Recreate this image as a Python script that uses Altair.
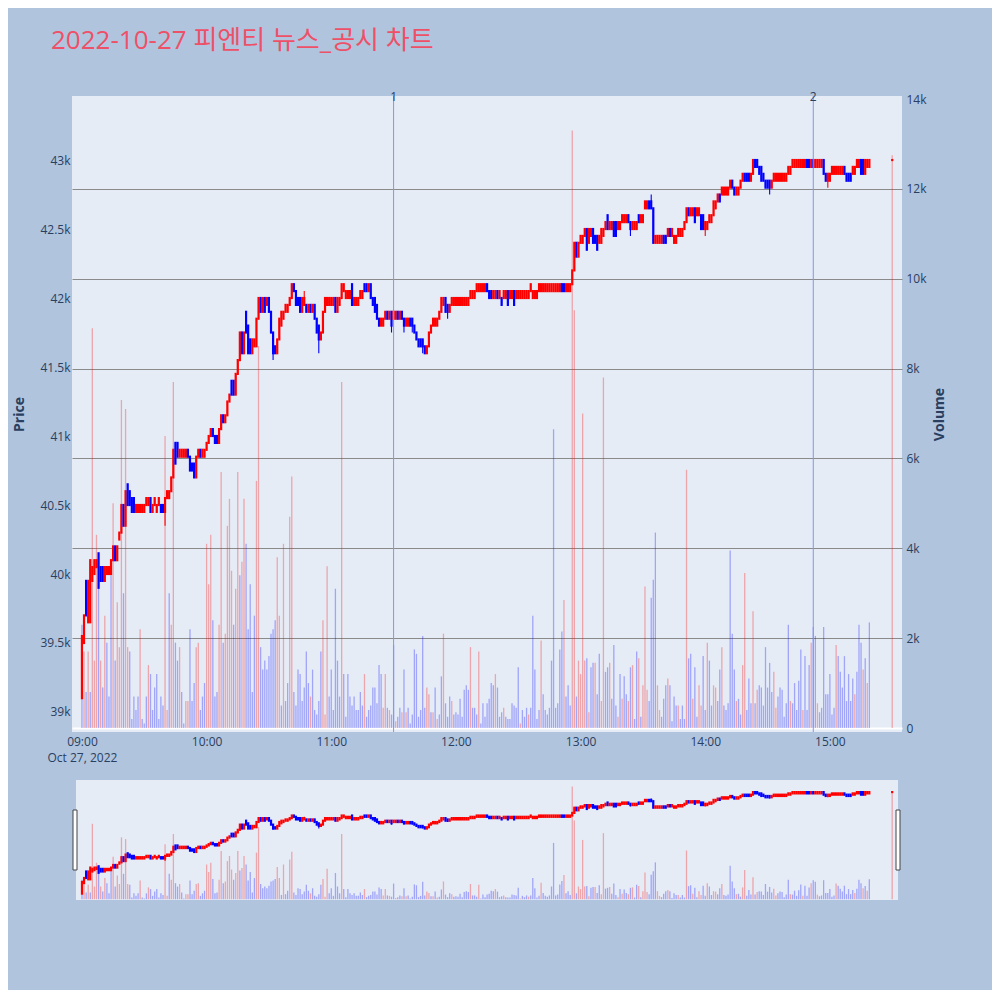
import altair as alt
import pandas as pd

# ---------------- data ----------------
PRICE_UNIT = 10  # prices below are in units of 10 won
title_text = "2022-10-27 피엔티 뉴스_공시 차트"

# one candle per minute after 09:00 (0..379) plus the 15:30 closing auction
minute_index = list(range(380)) + [390]

open_p = [
    3910,3950,3995,3965,3965,3995,4000,4005,4015,4005,
    4005,3995,4000,4000,4000,4010,4020,4010,4025,4030,
    4050,4035,4065,4060,4055,4055,4045,4045,4045,4045,
    4045,4050,4050,4055,4045,4050,4045,4050,4050,4050,
    4045,4055,4055,4060,4070,4095,4095,4085,4085,4085,
    4085,4090,4085,4080,4080,4070,4085,4090,4085,4085,
    4090,4095,4100,4105,4100,4100,4095,4105,4115,4110,
    4115,4125,4140,4140,4130,4145,4155,4175,4160,4190,
    4180,4170,4160,4165,4165,4185,4200,4190,4200,4195,
    4200,4190,4175,4165,4160,4170,4180,4185,4190,4190,
    4195,4200,4210,4205,4200,4200,4190,4195,4195,4190,
    4195,4190,4195,4185,4180,4170,4175,4190,4195,4195,
    4195,4195,4200,4190,4195,4200,4205,4200,4200,4200,
    4210,4195,4195,4195,4200,4200,4210,4210,4205,4210,
    4200,4200,4195,4185,4180,4180,4185,4190,4185,4190,
    4185,4185,4190,4185,4190,4185,4180,4180,4185,4185,
    4180,4175,4170,4170,4170,4165,4160,4165,4175,4180,
    4180,4180,4185,4190,4195,4200,4195,4190,4195,4195,
    4195,4195,4195,4195,4195,4195,4195,4200,4200,4200,
    4205,4205,4205,4205,4205,4210,4205,4205,4200,4200,
    4205,4200,4200,4200,4200,4205,4200,4200,4205,4200,
    4200,4200,4200,4200,4200,4200,4205,4200,4200,4200,
    4205,4205,4205,4205,4205,4205,4205,4205,4205,4205,
    4205,4210,4210,4205,4205,4205,4210,4220,4240,4230,
    4240,4240,4245,4250,4240,4245,4250,4245,4245,4240,
    4240,4245,4250,4260,4250,4250,4255,4255,4250,4250,
    4255,4255,4255,4260,4255,4250,4250,4250,4260,4255,
    4255,4265,4265,4270,4270,4265,4240,4240,4240,4240,
    4245,4245,4245,4250,4245,4240,4240,4245,4245,4245,
    4250,4255,4265,4260,4260,4265,4260,4260,4260,4260,
    4250,4250,4255,4255,4260,4265,4270,4275,4275,4275,
    4275,4275,4280,4285,4280,4275,4275,4280,4285,4290,
    4290,4290,4285,4290,4300,4300,4295,4295,4290,4285,
    4285,4285,4280,4285,4285,4285,4285,4285,4285,4285,
    4290,4290,4295,4295,4295,4295,4295,4295,4295,4300,
    4300,4295,4300,4295,4295,4295,4295,4300,4290,4285,
    4285,4290,4290,4290,4290,4290,4290,4295,4290,4290,
    4290,4290,4290,4295,4295,4300,4300,4290,4295,4295,
    4300,
]
close_p = [
    3955,3970,3970,3995,4010,4005,4010,4010,3990,3995,
    3995,4005,4005,4005,4010,4020,4010,4020,4030,4050,
    4035,4060,4050,4050,4045,4045,4050,4050,4050,4050,
    4050,4055,4055,4045,4050,4055,4050,4055,4045,4045,
    4055,4060,4060,4070,4090,4080,4085,4090,4090,4090,
    4090,4085,4075,4075,4070,4085,4090,4085,4090,4090,
    4095,4100,4105,4100,4095,4095,4105,4115,4110,4115,
    4125,4130,4130,4130,4145,4155,4175,4160,4175,4175,
    4160,4160,4170,4170,4185,4200,4190,4200,4190,4200,
    4190,4175,4160,4160,4170,4185,4190,4190,4195,4195,
    4200,4210,4205,4195,4195,4190,4200,4200,4190,4195,
    4190,4195,4185,4175,4170,4175,4190,4200,4200,4200,
    4200,4200,4190,4200,4200,4210,4210,4205,4205,4205,
    4195,4200,4200,4200,4205,4205,4205,4205,4210,4200,
    4195,4190,4185,4180,4185,4185,4190,4185,4190,4180,
    4190,4190,4185,4190,4185,4180,4185,4185,4180,4180,
    4175,4170,4165,4165,4165,4160,4165,4175,4180,4185,
    4185,4185,4190,4200,4200,4190,4190,4195,4200,4200,
    4200,4200,4200,4200,4200,4200,4200,4205,4205,4205,
    4210,4210,4210,4210,4210,4205,4200,4200,4205,4205,
    4200,4205,4195,4205,4205,4195,4205,4205,4195,4205,
    4205,4205,4205,4205,4205,4205,4210,4205,4205,4205,
    4210,4210,4210,4210,4210,4210,4210,4210,4210,4210,
    4210,4205,4205,4210,4210,4210,4220,4240,4230,4240,
    4245,4245,4250,4235,4250,4250,4240,4240,4235,4245,
    4250,4250,4255,4250,4255,4255,4245,4245,4255,4255,
    4260,4260,4260,4255,4250,4255,4255,4255,4255,4260,
    4260,4270,4270,4265,4265,4240,4245,4245,4245,4245,
    4240,4240,4250,4245,4250,4245,4245,4250,4250,4250,
    4255,4265,4260,4265,4265,4255,4265,4265,4250,4250,
    4255,4255,4260,4260,4270,4270,4275,4270,4280,4280,
    4280,4280,4285,4280,4275,4280,4280,4285,4290,4285,
    4285,4285,4290,4300,4295,4295,4290,4285,4285,4280,
    4280,4280,4285,4290,4290,4290,4290,4290,4290,4290,
    4295,4295,4300,4300,4300,4300,4300,4300,4300,4295,
    4295,4300,4295,4300,4300,4300,4300,4290,4285,4290,
    4290,4295,4295,4295,4295,4295,4295,4290,4285,4285,
    4285,4295,4295,4300,4300,4290,4290,4300,4300,4300,
    4300,
]
# wick extremes that go beyond the candle body (minute -> price/10)
wick_low = {40: 4035, 92: 4155, 114: 4160, 149: 4175, 155: 4175, 159: 4175,
            164: 4160, 176: 4185, 264: 4245, 300: 4245, 331: 4275, 359: 4280}
wick_high = {107: 4205, 274: 4275}

volume = [
    2300,1700,800,1700,800,8900,1500,4300,3100,1500,
    900,2500,1900,700,3400,5000,1500,2800,1800,7300,
    3000,7100,1800,1700,200,700,400,700,2200,200,
    100,700,1400,1200,400,900,1200,200,700,500,
    6500,400,3000,2300,7700,1900,1500,1800,800,100,
    600,600,2200,600,1000,1800,1900,400,700,1000,
    4100,3200,4300,2400,700,800,2300,5700,1900,2100,
    4500,5100,3500,2300,3100,5700,3400,3700,5100,4100,
    2200,3200,800,2500,5500,8500,1800,1300,1500,1300,
    1600,2100,2200,2400,3800,2500,500,4100,600,1000,
    4700,5600,800,500,1300,1200,600,900,1700,1000,
    700,1300,400,300,600,1700,2400,300,3600,700,
    1300,400,3100,1500,700,7700,1200,250,1200,700,
    500,700,400,400,800,500,1200,250,400,500,
    900,900,550,1400,1200,450,1200,450,400,300,
    1850,150,250,450,350,1300,350,450,100,300,
    1750,1650,250,400,2050,450,900,750,350,350,
    900,200,300,1150,2100,550,250,700,600,300,
    350,300,650,250,850,950,850,1800,450,450,
    300,1700,100,550,250,550,650,1000,950,1200,
    900,250,350,450,250,200,200,550,500,450,
    1350,100,400,250,450,300,450,2500,1300,200,
    400,1950,750,400,300,450,1500,6650,450,550,
    1750,2150,2850,700,950,500,13300,9300,700,1500,
    1200,7000,1500,1550,350,1350,1450,1450,750,1650,
    600,7800,1250,1350,1450,650,1850,500,250,1200,
    650,1150,750,600,1350,1400,200,1700,1550,250,
    950,3150,850,600,2900,3300,4350,950,400,250,
    650,950,1100,950,150,700,500,500,200,500,
    200,5750,1550,1650,650,1350,250,950,500,1600,
    400,1900,1500,500,950,900,600,1300,1800,500,
    400,550,3950,2100,1300,600,650,300,1400,3450,
    400,1100,550,2600,550,850,950,900,500,1800,
    900,1450,800,1250,450,700,900,850,250,550,
    2300,600,550,1000,400,1050,1750,400,1600,400,
    1400,1900,2250,2050,550,350,450,2250,750,750,
    1200,300,450,1850,1600,1250,900,1600,600,1200,
    600,1100,750,1250,2300,1900,1300,1550,1000,2350,
    12750,
]
# r = red (buy side) bar, b = blue bar
vol_side = list(
    "brbrbrrrbr" "brbbbrbrrr" "brrbbbbbrb" "bbrbbbbbbb" "rrbrrbbrbb"
    "rrbbbrrbbb" "rrrbbbrrbr" "rrrbrrbrrb" "bbbbrrbbbb" "bbbbrrbrbb"
    "rrbbbbbbbb" "rbbbbbrrrb" "bbbbbrbbbb" "bbbbbbrbbb" "bbbbbrrbrb"
    "brbbrbrbbb" "bbbbbbrrbr" "brbbrbbbrb" "bbbbbbbrbb" "brbbbbbbbr"
    "bbbrbbbbbb" "brbbbrbbbb" "brbbbbbbbb" "bbrbbbrrbr" "rrrbrbbrbb"
    "rrbbrbbbrb" "rbbrbrbbrb" "rrrbbbbrrb" "bbrbbbbrbb" "brbbrbbrrb"
    "brbbrrbbrb" "bbbbbrbbrr" "bbbrbrbbbb" "bbbrrbbbbb" "brbbbbbrbb"
    "brbbrbbbbb" "bbbrbbbbbb" "bbrbbbrbrb" "r"
)

news_times = ["2022-10-27T11:30:00Z", "2022-10-27T14:52:00Z"]
news_labels = ["1", "2"]

price_ticks = [39000, 39500, 40000, 40500, 41000, 41500, 42000, 42500, 43000]
volume_ticks = [0, 2000, 4000, 6000, 8000, 10000, 12000, 14000]
hour_ticks = ["09:00", "10:00", "11:00", "12:00", "13:00", "14:00", "15:00"]

# ---------------- table ----------------
base = pd.Timestamp("2022-10-27T09:00:00Z")
times = base + pd.to_timedelta(minute_index, unit="m")
rows = []
for i, m in enumerate(minute_index):
    o = open_p[i] * PRICE_UNIT
    c = close_p[i] * PRICE_UNIT
    hi = wick_high.get(m, max(open_p[i], close_p[i])) * PRICE_UNIT
    lo = wick_low.get(m, min(open_p[i], close_p[i])) * PRICE_UNIT
    rows.append({
        "t": times[i].strftime("%Y-%m-%dT%H:%M:%SZ"),
        "o": o, "c": c, "h": hi, "l": lo,
        "bot": min(o, c), "top": max(o, c),
        "dir": "r" if c >= o else "b",
        "vol": volume[i], "vside": vol_side[i],
    })
df = pd.DataFrame(rows)
news_df = pd.DataFrame({"t": news_times, "label": news_labels})

def ms(minutes):
    return int((base + pd.Timedelta(minutes=minutes)).value // 10**6)

hour_ms = [int(pd.Timestamp("2022-10-27T" + h + ":00Z").value // 10**6) for h in hour_ticks]

# ---------------- styling constants ----------------
FONT = "Open Sans, Noto Sans CJK KR, sans-serif"
TXT = "#2a3f5f"
W_MAIN, H_MAIN = 830, 636
W_SL, H_SL = 822, 120
PX_PER_MIN = 2.103
x_main_dom = [ms(-5 / PX_PER_MIN), ms(825 / PX_PER_MIN)]
x_sl_dom = [ms(-1 / PX_PER_MIN), ms(821 / PX_PER_MIN)]
price_dom = [38855, 43464]
vol_dom = [-89, 14067]
K_LABEL = "datum.value === 0 ? '0' : (datum.value / 1000) + 'k'"

color_scale = alt.Scale(domain=["r", "b"], range=["#ff0000", "#0000ff"])


def build(xscale, main):
    xaxis = alt.Axis(
        values=hour_ms, title=None, ticks=False, domain=False, grid=False,
        labelExpr="utcFormat(datum.value, '%H') == '09' ? ['09:00', 'Oct 27, 2022'] : utcFormat(datum.value, '%H:%M')",
        labelFont=FONT, labelFontSize=12, labelColor=TXT, labelPadding=4,
        labelLineHeight=16, labelBound=False, labelOverlap=False, labelFlush=False,
    ) if main else None
    X = alt.X("t:T", scale=xscale, axis=xaxis)

    vaxis = alt.Axis(
        orient="right", values=volume_ticks, labelExpr=K_LABEL, title="Volume",
        titleAngle=270, titleFont=FONT, titleFontSize=14, titleFontWeight="bold",
        titleColor=TXT, titleX=44, titleY=H_MAIN / 2, labelFont=FONT, labelFontSize=12,
        labelColor=TXT, labelPadding=4, ticks=False, domain=False,
        gridColor={"condition": {"test": "datum.value === 0", "value": "#ffffff"}, "value": "#8a8a8a"},
        gridWidth={"condition": {"test": "datum.value === 0", "value": 2}, "value": 1.2},
        gridOpacity={"condition": {"test": "datum.value === 14000", "value": 0}, "value": 1},
    ) if main else None
    vol_layer = alt.Chart(df).mark_bar(size=1.3, opacity=0.3).encode(
        x=X,
        y=alt.Y("vol:Q", scale=alt.Scale(domain=vol_dom, nice=False, zero=False), axis=vaxis),
        y2=alt.datum(0),
        color=alt.Color("vside:N", scale=color_scale, legend=None),
    )

    paxis = alt.Axis(
        orient="left", values=price_ticks, labelExpr=K_LABEL, title="Price",
        titleFont=FONT, titleFontSize=14, titleFontWeight="bold", titleColor=TXT,
        titleX=-46, titleY=H_MAIN / 2, labelFont=FONT, labelFontSize=12, labelColor=TXT,
        labelPadding=2, ticks=False, domain=False, gridColor="#ffffff", gridWidth=1,
    ) if main else None
    pscale = alt.Scale(domain=price_dom, nice=False, zero=False)
    wick = alt.Chart(df).mark_rule(strokeWidth=1.1).encode(
        x=X,
        y=alt.Y("l:Q", scale=pscale, axis=paxis),
        y2="h:Q",
        color=alt.Color("dir:N", scale=color_scale, legend=None),
    )
    body = alt.Chart(df).mark_rule(strokeWidth=2.2, strokeCap="square").encode(
        x=X,
        y=alt.Y("bot:Q", scale=pscale, axis=paxis),
        y2="top:Q",
        color=alt.Color("dir:N", scale=color_scale, legend=None),
    )
    price_parts = [wick, body]
    if main:
        news_rule = alt.Chart(news_df).mark_rule(color="#8496e6", strokeWidth=1).encode(x=X)
        news_text = alt.Chart(news_df).mark_text(
            font=FONT, fontSize=12, color=TXT, baseline="middle", align="center"
        ).encode(x=X, y=alt.value(1), text="label:N")
        price_parts = [wick, body, news_rule, news_text]
    price_group = alt.layer(*price_parts)
    layers = [vol_layer, price_group]
    if not main:
        handle_df = alt.Data(values=[{}])
        left_h = alt.Chart(handle_df).mark_rect(fill="#ffffff", stroke="#444444", strokeWidth=1).encode(
            x=alt.value(-3), x2=alt.value(1), y=alt.value(30), y2=alt.value(90))
        right_h = alt.Chart(handle_df).mark_rect(fill="#ffffff", stroke="#444444", strokeWidth=1).encode(
            x=alt.value(820), x2=alt.value(824), y=alt.value(30), y2=alt.value(90))
        layers += [left_h, right_h]
    ch = alt.layer(*layers).resolve_scale(y="independent")
    if main:
        return ch.properties(width=W_MAIN, height=H_MAIN)
    return ch.properties(width=W_SL, height=H_SL)


main_chart = build(alt.Scale(type="utc", domain=x_main_dom, nice=False), True)
slider_chart = build(alt.Scale(type="utc", domain=x_sl_dom, nice=False), False)

chart = alt.vconcat(
    main_chart, slider_chart, spacing=48, center=True, bounds="flush"
).resolve_scale(x="independent", y="independent").properties(
    title=alt.TitleParams(
        text=title_text, anchor="start", frame="group", font=FONT, fontSize=26,
        fontWeight="normal", color="#ee5068", dx=-21, offset=37,
    ),
    autosize=alt.AutoSizeParams(type="pad"),
    padding={"left": 4, "top": 20, "right": 46, "bottom": 90},
).configure(
    background="#b0c4de",
).configure_view(
    fill="#e5ecf6", stroke=None,
)

chart.save("out.html", embed_options={"renderer": "svg", "actions": False})
